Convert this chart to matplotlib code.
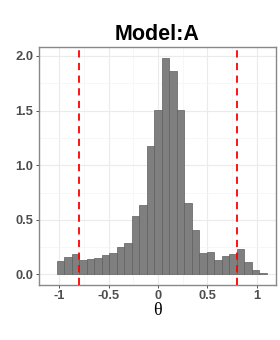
import numpy as np
import matplotlib
matplotlib.use("Agg")
import matplotlib.pyplot as plt
from matplotlib.ticker import MultipleLocator

########### data ###########
title = "Model:A"
xlabel = "\u03b8"
bin_start = -1.029
bin_width = 0.0761
heights = [0.125, 0.162, 0.185, 0.135, 0.145, 0.15, 0.18, 0.198, 0.253, 0.285,
           0.531, 0.635, 1.175, 1.502, 1.984, 1.865, 1.502, 0.653, 0.403, 0.198,
           0.206, 0.128, 0.165, 0.189, 0.229, 0.11, 0.037, 0.012]
cutoffs = [-0.8, 0.8]
x_ticks = [-1, -0.5, 0, 0.5, 1]
x_tick_labels = ["-1", "-0.5", "0", "0.5", "1"]
y_ticks = [0.0, 0.5, 1.0, 1.5, 2.0]
############################

plt.rcParams['font.family'] = ['Liberation Sans', 'DejaVu Sans']

fig = plt.figure(figsize=(2.8, 3.4), dpi=100)
ax = fig.add_axes([0.139, 0.162, 0.847, 0.7])

lefts = bin_start + bin_width * np.arange(len(heights))
ax.bar(lefts, heights, width=bin_width, align="edge",
       color="#7f7f7f", edgecolor="#5e5e5e", linewidth=0.5, zorder=2)

for c in cutoffs:
    ax.axvline(c, color="red", linestyle=(0, (4, 3)), linewidth=1.3, zorder=3)

ax.set_xlim(-1.208, 1.198)
ax.set_ylim(-0.096, 2.083)

ax.set_xticks(x_ticks)
ax.set_xticklabels(x_tick_labels)
ax.set_yticks(y_ticks)
ax.set_yticklabels([f"{v:.1f}" for v in y_ticks])
ax.xaxis.set_minor_locator(MultipleLocator(0.25))
ax.yaxis.set_minor_locator(MultipleLocator(0.25))

ax.grid(which="major", color="#ebebeb", linewidth=0.8, zorder=0)
ax.grid(which="minor", color="#f4f4f4", linewidth=0.5, zorder=0)
ax.set_axisbelow(True)

for s in ax.spines.values():
    s.set_color("#888888")
    s.set_linewidth(1.0)

ax.tick_params(which="major", length=2.5, width=0.6, color="#333333",
               labelcolor="#4d4d4d", labelsize=9.3, pad=1.5)
ax.tick_params(which="minor", length=0)
for lab in ax.get_xticklabels() + ax.get_yticklabels():
    lab.set_fontweight("bold")

ax.set_xlabel(xlabel, family="Liberation Serif", fontsize=13, labelpad=0)
ax.set_title(title, fontsize=15.5, fontweight="bold", pad=5)

fig.savefig("out.png", dpi=100)
